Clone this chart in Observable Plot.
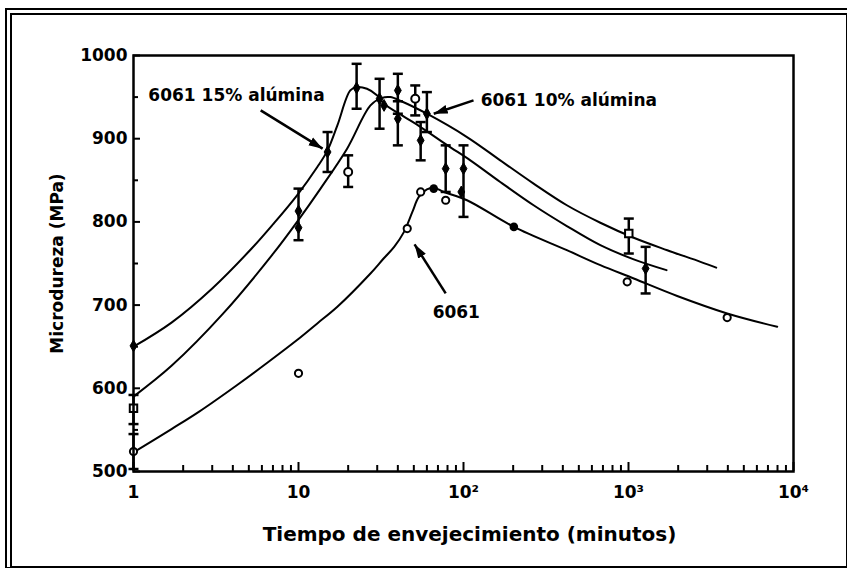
<!DOCTYPE html>
<html>
<head>
<meta charset="utf-8">
<script src="https://cdn.jsdelivr.net/npm/d3@7"></script>
<script src="https://cdn.jsdelivr.net/npm/@observablehq/plot@0.6"></script>
<style>
  body { margin: 0; background: #fff; }
  #wrap { position: relative; width: 847px; height: 575px; }
  #border { position: absolute; left: 5px; top: 8px; width: 834px; height: 551px;
    border-left: 7px double #000; border-top: 7px double #000;
    border-bottom: 2px solid #000; border-right: 2px solid #000; pointer-events: none; }
</style>
</head>
<body>
<div id="wrap"></div>
<script>
// ---- tick values / labels ----
const xMajor = [1, 10, 100, 1000, 10000];
const xTickLabels = ["1", "10", "10²", "10³", "10⁴"];
const xMinor = [2,3,4,5,6,7,8,9, 20,30,40,50,60,70,80,90, 200,300,400,500,600,700,800,900, 2000,3000,4000,5000,6000,7000,8000,9000];
const yMajor = [500, 600, 700, 800, 900, 1000];
const yMinor = [550, 650, 750, 850, 950];

// ---- 6061 15% alúmina : filled diamonds (t in minutes, microhardness MPa) ----
const alu15T  = [1,    10,  10,  15,  22.5, 31,  33,   40,  40,  55,  60,  78,  97,   100, 1270];
const alu15V  = [651,  813, 793, 884, 961,  948, 940,  958, 924, 898, 930, 864, 836,  864, 744];
const alu15Lo = [null, 778, null,860, 936,  912, null, 930, 892, 874, 908, 836, null, 806, 714];
const alu15Hi = [null, 840, null,908, 990,  972, null, 978, 945, 920, 956, 892, null, 892, 770];

// ---- 6061 10% alúmina : open squares / open circles with error bars ----
const alu10SqT  = [1,   1004];
const alu10SqV  = [576, 786];
const alu10SqLo = [557, 762];
const alu10SqHi = [592, 804];
const alu10CiT  = [20,  51];
const alu10CiV  = [860, 948];
const alu10CiLo = [842, 928];
const alu10CiHi = [880, 964];

// ---- 6061 : open circles and filled circles ----
const a6061OpenT = [1,   10,  45.6, 55,  78,  982, 3963];
const a6061OpenV = [524, 618, 792,  836, 826, 728, 685];
const a6061Lo    = [503, null, null, null, null, null, null];
const a6061Hi    = [545, null, null, null, null, null, null];
const a6061FillT = [66,  202];
const a6061FillV = [840, 794];

// ---- fitted curves ----
const curve15T = [1, 1.7, 3, 5.2, 7, 9.8, 13, 15, 17.2, 20.6, 22.5, 26, 30, 33, 44, 55, 80, 110, 167, 266, 423, 675, 1076, 1700];
const curve15V = [650, 679, 720, 768, 797, 832, 866, 886, 916, 958, 962, 960, 952, 942, 926, 914, 892, 874, 848, 820, 795, 772, 755, 742];
const curve10T = [1, 1.7, 3.5, 7.1, 9.8, 13.6, 19.7, 27.3, 32, 36, 42, 60, 105, 167, 266, 423, 675, 1076, 1718, 2731, 3400];
const curve10V = [590, 627, 690, 763, 800, 840, 888, 940, 949, 950, 945, 930, 902, 874, 846, 820, 799, 781, 766, 752, 745];
const curve6061T = [1, 1.7, 2.5, 4.25, 6.5, 9.8, 13, 17.2, 27.3, 32.8, 38, 43.6, 49, 53.6, 60, 66, 76, 105, 202, 423, 675, 1076, 1973, 3963, 7965];
const curve6061V = [523, 551, 572, 604, 631, 658, 678, 698, 738, 756, 770, 788, 812, 830, 839, 841, 836, 826, 794, 766, 748, 732, 711, 690, 674];

// ---- annotations ----
const annText = ["6061 15% alúmina", "6061 10% alúmina", "6061"];
const annT  = [1.23, 127, 65];
const annV  = [952, 946, 691];
const arrT1 = [5.9, 115, 78];
const arrV1 = [934, 946, 714];
const arrT2 = [14.0, 66, 50.5];
const arrV2 = [888, 930, 773];

// ---- tables ----
const zip = (T, V) => T.map((t, i) => ({t, v: V[i]}));
const bars = [];
function addBars(T, LO, HI) { T.forEach((t, i) => { if (LO[i] != null) bars.push({t, lo: LO[i], hi: HI[i]}); }); }
addBars(alu15T, alu15Lo, alu15Hi);
addBars(alu10SqT, alu10SqLo, alu10SqHi);
addBars(alu10CiT, alu10CiLo, alu10CiHi);
addBars(a6061OpenT, a6061Lo, a6061Hi);
const curves = [
  ...zip(curve15T, curve15V).map(d => ({...d, s: "15"})),
  ...zip(curve10T, curve10V).map(d => ({...d, s: "10"})),
  ...zip(curve6061T, curve6061V).map(d => ({...d, s: "0"}))
];
const ann = annText.map((text, i) => ({text, t: annT[i], v: annV[i], t1: arrT1[i], v1: arrV1[i], t2: arrT2[i], v2: arrV2[i]}));

const cap = { draw(ctx, size) { const w = Math.sqrt(size / Math.PI); ctx.moveTo(-w, 0); ctx.lineTo(w, 0); } };

const SVGNS = "http://www.w3.org/2000/svg";
function filledHead(color) {
  const m = document.createElementNS(SVGNS, "marker");
  m.setAttribute("viewBox", "-14 -5 14 10");
  m.setAttribute("markerWidth", 14);
  m.setAttribute("markerHeight", 10);
  m.setAttribute("markerUnits", "userSpaceOnUse");
  m.setAttribute("orient", "auto");
  const p = document.createElementNS(SVGNS, "path");
  p.setAttribute("d", "M-14,-4.5L0,0L-14,4.5Z");
  p.setAttribute("fill", color);
  p.setAttribute("stroke", "none");
  m.appendChild(p);
  return m;
}

const W = 847, H = 575, ML = 133, MR = 54, MT = 55, MB = 104;
const FW = W - ML - MR, FH = H - MT - MB;

const chart = Plot.plot({
  width: W, height: H,
  marginLeft: ML, marginRight: MR, marginTop: MT, marginBottom: MB,
  style: { fontFamily: "'DejaVu Sans', Verdana, sans-serif", fontWeight: "bold", fontSize: "16px", color: "#000", background: "#fff" },
  x: { type: "log", domain: [1, 10000] },
  y: { domain: [500, 1000] },
  marks: [
    Plot.line(curves, { x: "t", y: "v", z: "s", curve: "catmull-rom", stroke: "#000", strokeWidth: 2 }),
    Plot.ruleX(bars, { x: "t", y1: "lo", y2: "hi", stroke: "#000", strokeWidth: 2.5 }),
    Plot.dot(bars, { x: "t", y: "lo", symbol: cap, r: 5, stroke: "#000", strokeWidth: 2.5, fill: "none" }),
    Plot.dot(bars, { x: "t", y: "hi", symbol: cap, r: 5, stroke: "#000", strokeWidth: 2.5, fill: "none" }),
    Plot.dot(zip(alu15T, alu15V), { x: "t", y: "v", symbol: "diamond", r: 3.6, fill: "#000", stroke: "#000", strokeWidth: 1 }),
    Plot.dot(zip(alu10SqT, alu10SqV), { x: "t", y: "v", symbol: "square", r: 4.2, fill: "#fff", stroke: "#000", strokeWidth: 2 }),
    Plot.dot(zip(alu10CiT, alu10CiV), { x: "t", y: "v", symbol: "circle", r: 4, fill: "#fff", stroke: "#000", strokeWidth: 2 }),
    Plot.dot(zip(a6061OpenT, a6061OpenV), { x: "t", y: "v", symbol: "circle", r: 3.6, fill: "#fff", stroke: "#000", strokeWidth: 2 }),
    Plot.dot(zip(a6061FillT, a6061FillV), { x: "t", y: "v", symbol: "circle", r: 4.3, fill: "#000" }),
    Plot.link(ann, { x1: "t1", y1: "v1", x2: "t2", y2: "v2", stroke: "#000", strokeWidth: 2.5, markerEnd: filledHead }),
    Plot.text(ann, { x: "t", y: "v", text: "text", textAnchor: "start", fontSize: 17, fontWeight: "bold", fill: "#000" }),
    Plot.axisY(yMajor, { tickSize: 0, tickPadding: 6, label: null, fontSize: 17, tickFormat: d => String(d) }),
    Plot.tickY(yMajor, { y: d => d, insetRight: FW - 7, stroke: "#000", strokeWidth: 2 }),
    Plot.tickY(yMinor, { y: d => d, insetRight: FW - 5, stroke: "#000", strokeWidth: 2 }),
    Plot.axisX(xMajor, { tickSize: 0, tickPadding: 14, label: null, fontSize: 17, tickFormat: d => xTickLabels[xMajor.indexOf(d)] }),
    Plot.tickX(xMajor, { x: d => d, insetTop: FH - 9, stroke: "#000", strokeWidth: 2 }),
    Plot.tickX(xMinor, { x: d => d, insetTop: FH - 6, stroke: "#000", strokeWidth: 2 }),
    Plot.frame({ stroke: "#000", strokeWidth: 2.5 }),
    Plot.text(["Microdureza (MPa)"], { frameAnchor: "left", dx: -76, rotate: -90, textAnchor: "middle", lineAnchor: "middle", fontSize: 17, fontWeight: "bold", fill: "#000" }),
    Plot.text(["Tiempo de envejecimiento (minutos)"], { frameAnchor: "bottom", dx: 6, dy: 63, textAnchor: "middle", lineAnchor: "middle", fontSize: 20, fontWeight: "bold", fill: "#000" })
  ]
});
const wrap = document.getElementById("wrap");
wrap.appendChild(chart);
const border = document.createElement("div");
border.id = "border";
wrap.appendChild(border);
</script>
</body>
</html>
